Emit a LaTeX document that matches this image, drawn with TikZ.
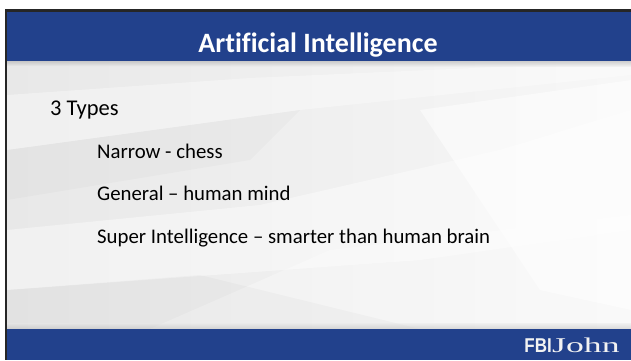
\documentclass[tikz,border=0pt]{standalone}
\usepackage{fontspec}
\setmainfont{Carlito}[Ligatures=NoCommon]
\newfontfamily\logosans{Liberation Sans}
\newfontfamily\logoserif{Liberation Serif}
\definecolor{slideblue}{HTML}{22418C}
\definecolor{bggray}{HTML}{E8E8E8}
\tikzset{
  body/.style={anchor=base west, inner sep=0pt, text=black},
  lvlone/.style={body, font=\fontsize{22.5}{27}\selectfont},
  lvltwo/.style={body, font=\fontsize{20.8}{25}\selectfont},
  facet/.style={fill=white, draw=none},
}
\begin{document}
\begin{tikzpicture}[x=1pt,y=-1pt]
\useasboundingbox (0,0) rectangle (631,360);
\fill[white] (0,0) rectangle (631,360);
% slide frame shadow
\fill[black!85] (5,9) rectangle (631,360);
% content background
\shade[left color=bggray, right color=white!97!black] (7,61) rectangle (631,329);
% facets
\fill[facet, opacity=0.35] (7,95) -- (250,78) -- (631,61) -- (631,75) -- (300,110) -- (7,150) -- cycle;
\fill[facet, opacity=0.4] (7,230) -- (260,205) -- (500,150) -- (631,110) -- (631,230) -- (420,260) -- (7,290) -- cycle;
\fill[facet, opacity=0.3] (150,329) -- (330,250) -- (631,215) -- (631,329) -- cycle;
\fill[black, opacity=0.025] (7,290) -- (200,275) -- (420,329) -- (7,329) -- cycle;
\fill[black, opacity=0.02] (7,150) -- (300,110) -- (250,160) -- (7,200) -- cycle;
\fill[facet, opacity=0.5] (420,110) -- (631,80) -- (631,310) -- (540,290) -- cycle;
% shadows near bars
\shade[top color=black!35, bottom color=bggray, opacity=0.5] (7,61) rectangle (631,66);
\shade[top color=bggray, bottom color=black!30, opacity=0.45] (7,323) rectangle (631,329);
% bars
\fill[slideblue] (7,12) rectangle (631,61);
\fill[slideblue] (7,329) rectangle (631,360);
% title
\node[font=\bfseries\fontsize{28}{34}\selectfont, text=white, anchor=base, inner sep=0pt] (title) at (318,52) {Artificial Intelligence};
% body text
\node[lvlone] (types) at (50,115) {3 Types};
\node[lvltwo] (narrow) at (97,158) {Narrow - chess};
\node[lvltwo] (general) at (97,200) {General – human mind};
\node[lvltwo] (super) at (97,243) {Super Intelligence – smarter than human brain};
% logo
\node[anchor=base east, inner sep=0pt, text=white!90!gray] (fbi) at (552,352) {\logosans\bfseries\fontsize{20}{21}\selectfont\scalebox{0.85}[1]{FBI}};
\node[anchor=base west, inner sep=0pt, text=white!90!gray] (john) at (552,352) {\logoserif\fontsize{21}{22}\selectfont\scalebox{1.7}[1]{John}};
\end{tikzpicture}
\end{document}
